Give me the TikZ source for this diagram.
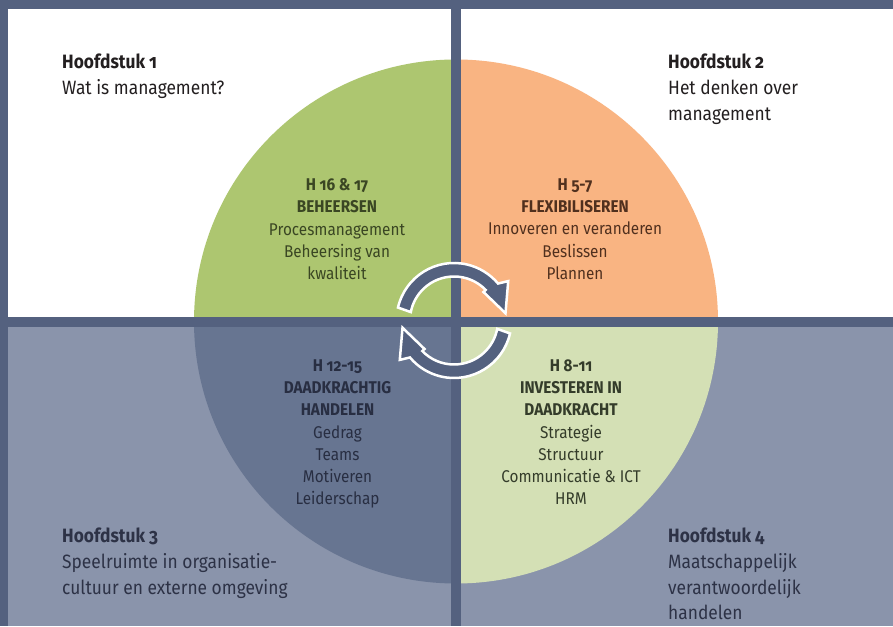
\documentclass[tikz,border=0pt]{standalone}
\usepackage{fontspec}
\setmainfont{Fira Sans}[Numbers=OldStyle,FakeStretch=0.9]
\definecolor{frame}{RGB}{84,97,127}
\definecolor{lowbg}{RGB}{138,148,171}
\definecolor{leaf}{RGB}{173,198,112}
\definecolor{peach}{RGB}{249,180,130}
\definecolor{slate}{RGB}{103,117,145}
\definecolor{pale}{RGB}{212,224,181}
\definecolor{inktop}{RGB}{35,31,32}
\definecolor{inklow}{RGB}{45,50,70}
\definecolor{inkleaf}{RGB}{58,70,35}
\definecolor{inkpeach}{RGB}{80,48,30}
\definecolor{inkslate}{RGB}{40,46,66}
\definecolor{inkpale}{RGB}{52,60,42}
\begin{document}
\begin{tikzpicture}[x=1pt,y=1pt,line join=round,
    corner/.style={anchor=north west,inner sep=0pt,align=left,font=\fontsize{19.3}{25.6}\selectfont},
    quarter/.style={anchor=north,inner sep=0pt,align=center,font=\fontsize{17}{22.2}\selectfont},
    cycarrow/.style={fill=frame,draw=white,line width=2.5pt,line join=miter}]
  \useasboundingbox (0,0) rectangle (893,626);
  % frame and the four fields
  \fill[frame] (0,0) rectangle (893,626);
  \fill[white] (8,309) rectangle (451,617);
  \fill[white] (461,309) rectangle (893,617);
  \fill[lowbg] (8,0) rectangle (451,299);
  \fill[lowbg] (461,0) rectangle (893,299);
  % quarter discs
  \coordinate (o) at (456,304.5);
  \fill[leaf] (o) -- ++(90:262) arc[start angle=90,end angle=180,radius=262] -- cycle;
  \fill[peach] (o) -- ++(0:262) arc[start angle=0,end angle=90,radius=262] -- cycle;
  \fill[slate] (o) -- ++(180:262) arc[start angle=180,end angle=270,radius=262] -- cycle;
  \fill[pale] (o) -- ++(270:262) arc[start angle=270,end angle=360,radius=262] -- cycle;
  % cross
  \fill[frame] (451,0) rectangle (461,626);
  \fill[frame] (0,299) rectangle (893,309);
  % turning arrows
  \begin{scope}[shift={(454,305.5)}]
    \draw[cycarrow] (167:57.5) arc[start angle=167,end angle=40,radius=57.5] -- (36:67) -- (8:52)
      -- (44:41) -- (44:44) arc[start angle=44,end angle=169,radius=44] -- cycle;
    \draw[cycarrow,rotate=180] (167:57.5) arc[start angle=167,end angle=40,radius=57.5] -- (36:67) -- (8:52)
      -- (44:41) -- (44:44) arc[start angle=44,end angle=169,radius=44] -- cycle;
  \end{scope}
  % chapters in the corners
  \node[corner,text=inktop] (h1) at (62,572) {\textbf{Hoofdstuk 1}\\Wat is management?};
  \node[corner,text=inktop] (h2) at (668,572) {\textbf{Hoofdstuk 2}\\Het denken over\\management};
  \node[corner,text=inklow] (h3) at (62,98) {\textbf{Hoofdstuk 3}\\Speelruimte in organisatie-\\cultuur en externe omgeving};
  \node[corner,text=inklow] (h4) at (668,98) {\textbf{Hoofdstuk 4}\\Maatschappelijk\\verantwoordelijk\\handelen};
  % contents of the quarters
  \node[quarter,text=inkleaf] (beheersen) at (337,447.5) {\textbf{H 16 \& 17}\\\textbf{BEHEERSEN}\\Procesmanagement\\Beheersing van\\kwaliteit};
  \node[quarter,text=inkpeach] (flex) at (575,447.5) {\textbf{H 5-7}\\\textbf{FLEXIBILISEREN}\\Innoveren en veranderen\\Beslissen\\Plannen};
  \node[quarter,text=inkslate] (daad) at (337.5,266.5) {\textbf{H 12-15}\\\textbf{DAADKRACHTIG}\\\textbf{HANDELEN}\\Gedrag\\Teams\\Motiveren\\Leiderschap};
  \node[quarter,text=inkpale] (invest) at (571,266.5) {\textbf{H 8-11}\\\textbf{INVESTEREN IN}\\\textbf{DAADKRACHT}\\Strategie\\Structuur\\Communicatie \& ICT\\HRM};
\end{tikzpicture}
\end{document}
